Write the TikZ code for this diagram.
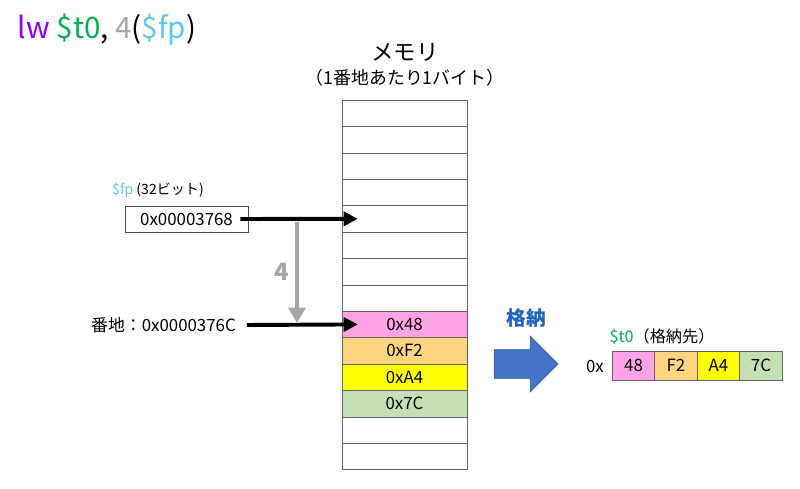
\documentclass[tikz,border=0pt]{standalone}
\usepackage{fontspec}
\setmainfont{Noto Sans CJK JP}
\usepackage{xcolor}
\usepackage{tikz}
\usetikzlibrary{arrows.meta,shapes.arrows}

\definecolor{lwpurple}{HTML}{8B00FF}
\definecolor{regreen}{HTML}{00B050}
\definecolor{fpblue}{HTML}{5BC8F5}
\definecolor{offgray}{HTML}{A6A6A6}
\definecolor{cellpink}{HTML}{FFA3E8}
\definecolor{cellorange}{HTML}{FFD580}
\definecolor{cellyellow}{HTML}{FFFF00}
\definecolor{cellgreen}{HTML}{C5E0B4}
\definecolor{storeblue}{HTML}{4472C4}
\definecolor{storetext}{HTML}{1F62C0}

\newcommand{\fsz}[1]{\fontsize{#1}{#1}\selectfont}

\begin{document}
\begin{tikzpicture}[x=0.025cm, y=-0.025cm,
        cell/.style={draw=black!60, minimum width=3.125cm, minimum height=0.66cm, inner sep=0pt, font=\fsz{12}},
        reg/.style={draw=black!60, minimum width=1.0625cm, minimum height=0.725cm, inner sep=0pt, font=\fsz{12}},
        ptr/.style={line width=2.8pt, -{Triangle[length=10pt,width=10pt]}},
        offarrow/.style={line width=3.5pt, offgray, -{Triangle[length=11pt,width=12pt]}}]
        \useasboundingbox (0,0) rectangle (800,488);

        % Instruction
        \node[anchor=west, font=\fsz{21}] (title) at (13,30)
            {\textcolor{lwpurple}{lw} \textcolor{regreen}{\$t0}, \textcolor{offgray}{4}(\textcolor{fpblue}{\$fp})};

        % Memory column
        \node[font=\fsz{16}] (memtitle) at (405,52) {メモリ};
        \node[font=\fsz{12.7}] (memsub) at (405,78) {（1番地あたり1バイト）};
        \foreach \i in {0,1,2,3,4,5,6,7,12,13}
            \node[cell] (m\i) at (404.5,{113.2+26.4*\i}) {};
        \foreach \i/\val/\col in {8/0x48/cellpink, 9/0xF2/cellorange, 10/0xA4/cellyellow, 11/0x7C/cellgreen}
            \node[cell, fill=\col] (m\i) at (404.5,{113.2+26.4*\i}) {\val};

        % $fp register
        \node[font=\fsz{10}] (fplabel) at (158,190) {\textcolor{fpblue}{\$fp} (32ビット)};
        \node[draw=black!70, minimum width=3.075cm, minimum height=0.65cm, inner sep=0pt, font=\fsz{12}] (fp) at (186.5,219) {0x00003768};

        % Effective address
        \node[font=\fsz{12}] (addr) at (163.5,325) {番地：0x0000376C};

        % Offset 4
        \coordinate (drop) at (297,0);
        \draw[offarrow] ([yshift=-0.08cm]fp.east -| drop) -- ([yshift=0.05cm]addr.east -| drop);
        \node[offgray, font=\fsz{17}\bfseries] (offs) at (282,272) {4};

        \draw[ptr] ([xshift=-0.2cm]fp.east) -- ([xshift=0.4cm]m4.west);
        \draw[ptr] ([xshift=0.15cm]addr.east) -- ([xshift=0.4cm]m8.west);

        % Store into $t0
        \node[storetext, font=\fsz{14}\bfseries] (storelabel) at (526,318) {格納};
        \node[single arrow, fill=storeblue, draw=storeblue!80!black, minimum height=1.6cm, minimum width=1.375cm,
            inner sep=0.35cm, single arrow head extend=0.34cm, single arrow tip angle=90] (store) at (519,364) {};

        \node[font=\fsz{11.5}] (t0label) at (662,337) {\textcolor{regreen}{\$t0}（格納先）};
        \node[font=\fsz{12}] (hex) at (595,366) {0x};
        \foreach \i/\val/\col in {1/48/cellpink, 2/F2/cellorange, 3/A4/cellyellow, 4/7C/cellgreen}
            \node[reg, fill=\col] (r\i) at ({591+42.5*\i},365.5) {\val};
\end{tikzpicture}
\end{document}
